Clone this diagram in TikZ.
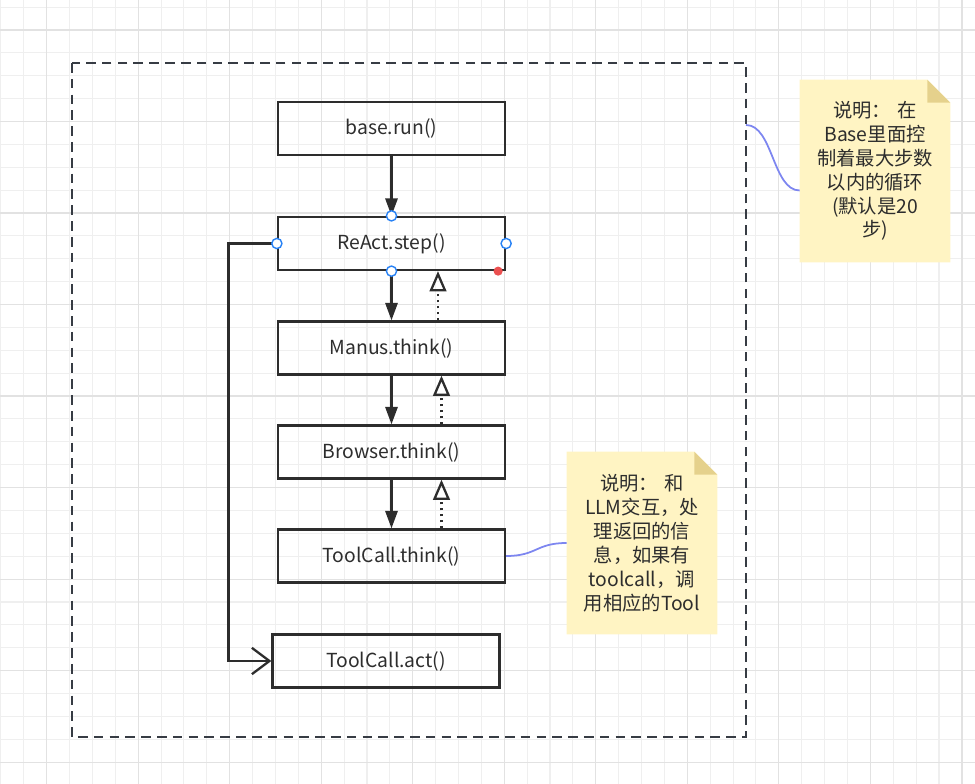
\documentclass[tikz,border=0pt]{standalone}
\usepackage{fontspec}
\setmainfont{Noto Sans CJK SC}
\definecolor{inkgray}{RGB}{45,45,45}
\definecolor{framegray}{RGB}{55,60,68}
\definecolor{gridminor}{RGB}{239,239,239}
\definecolor{gridmajor}{RGB}{226,226,226}
\definecolor{notebg}{RGB}{255,244,195}
\definecolor{notefold}{RGB}{229,209,140}
\definecolor{linkblue}{RGB}{125,134,240}
\definecolor{handleblue}{RGB}{40,130,245}
\definecolor{handlered}{RGB}{235,80,80}
\usetikzlibrary{arrows.meta, backgrounds}

\tikzset{
  stepbox/.style={draw=inkgray, line width=1.3pt, text=inkgray, minimum width=4.54cm, minimum height=1.06cm, font=\fontsize{11}{13}\selectfont},
  notebox/.style={minimum width=3cm, minimum height=3.64cm, text width=2.7cm, align=center, text=inkgray, font=\fontsize{11}{13.6}\selectfont},
  framedash/.style={draw=framegray, line width=1.2pt, dash pattern=on 5.5pt off 3.5pt},
  flow/.style={draw=inkgray, line width=1.3pt, -{Triangle[length=10pt,width=7pt]}},
  back/.style={draw=inkgray, line width=1.3pt, dash pattern=on 1.2pt off 2.2pt, -{Triangle[open,length=11.5pt,width=9.5pt]}},
  loopback/.style={draw=inkgray, line width=1.3pt, -{Straight Barb[length=10pt,width=15pt]}},
  link/.style={draw=linkblue, line width=1pt},
  handle/.style={draw=handleblue, fill=white, line width=0.8pt}
}

\begin{document}
\begin{tikzpicture}[x=0.02cm, y=-0.02cm]
\useasboundingbox (0,0) rectangle (975,784);

\node[stepbox] (base) at (391.5,128.5) {base.run()};
\node[stepbox] (react) at (391.5,243.5) {ReAct.step()};
\node[stepbox] (manus) at (391.5,348) {Manus.think()};
\node[stepbox] (browser) at (391.5,452) {Browser.think()};
\node[stepbox] (tcthink) at (391.5,556) {ToolCall.think()};
\node[stepbox] (tcact) at (386,661) {ToolCall.act()};

\node[notebox] (noteloop) at (875,171) {说明： 在\\Base里面控\\制着最大步数\\以内的循环\\(默认是20\\步)};
\node[notebox] (notellm) at (642,543) {说明： 和\\LLM交互，处\\理返回的信\\息，如果有\\toolcall，调\\用相应的Tool};

\coordinate (frameR) at (746,125);
\draw[framedash] (72,63) rectangle (746,737);

\draw[flow] (base.south) -- (react.north);
\draw[flow] (react.south) -- (manus.north);
\draw[flow] (manus.south) -- (browser.north);
\draw[flow] (browser.south) -- (tcthink.north);

\draw[back] ([xshift=0.93cm]manus.north) -- ([xshift=0.93cm]react.south);
\draw[back] ([xshift=1cm]browser.north) -- ([xshift=1cm]manus.south);
\draw[back] ([xshift=1cm]tcthink.north) -- ([xshift=1cm]browser.south);

\draw[loopback] (react.west) -| ([xshift=-0.86cm]tcact.west) -- (tcact.west);

\draw[link] (frameR) .. controls +(27,0) and +(-27,0) .. ([yshift=-0.39cm]noteloop.west);
\draw[link] (tcthink.east) .. controls +(31,0) and +(-31,0) .. (notellm.west);

\foreach \a in {north,south,east,west}
  \draw[handle] (react.\a) circle (2.9pt);
\fill[handlered] ([xshift=-0.16cm]react.south east) circle (2.6pt);

\begin{scope}[on background layer]
\foreach \k in {0,...,42}
  \draw[gridminor, line width=0.6pt] ({0.9+22.88*\k},0) -- ({0.9+22.88*\k},784);
\foreach \k in {0,...,33}
  \draw[gridminor, line width=0.6pt] (0,{7.1+22.88*\k}) -- (975,{7.1+22.88*\k});
\foreach \k in {0,...,10}
  \draw[gridmajor, line width=0.7pt] ({46.7+91.52*\k},0) -- ({46.7+91.52*\k},784);
\foreach \k in {0,...,8}
  \draw[gridmajor, line width=0.7pt] (0,{30+91.52*\k}) -- (975,{30+91.52*\k});
\foreach \n in {noteloop,notellm} {
  \fill[notebg] (\n.south west) -- (\n.north west) -- ([xshift=-0.46cm]\n.north east)
    -- ([yshift=-0.46cm]\n.north east) -- (\n.south east) -- cycle;
  \fill[notefold] ([xshift=-0.46cm]\n.north east) -- ([yshift=-0.46cm]\n.north east)
    -- ([xshift=-0.46cm,yshift=-0.46cm]\n.north east) -- cycle;
}
\end{scope}
\end{tikzpicture}
\end{document}
